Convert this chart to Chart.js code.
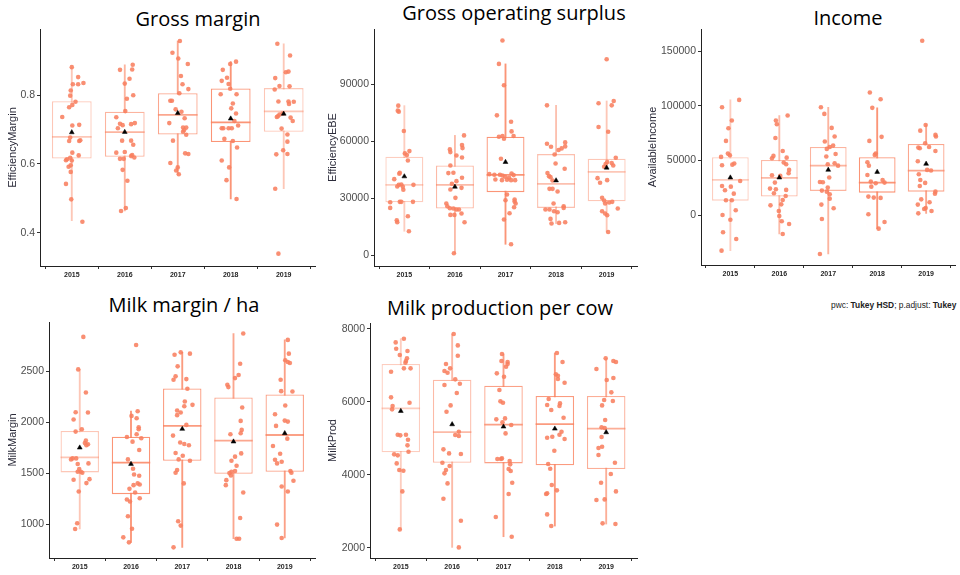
<!DOCTYPE html>
<html>
<head>
<meta charset="utf-8">
<title>Farm efficiency indicators 2015-2019</title>
<script src="https://cdn.jsdelivr.net/npm/chart.js@4/dist/chart.umd.min.js"></script>
<style>
  html, body { margin: 0; padding: 0; background: #fff; }
  #page { position: relative; width: 960px; height: 575px; overflow: hidden; background: #fff; }
  canvas { position: absolute; }
  .ptitle { position: absolute; font-family: "Open Sans", "Noto Sans", sans-serif; font-weight: 400; font-size: 20px; color: #000;
            white-space: nowrap; transform: translateX(-50%); line-height: 20px; }
  #caption { position: absolute; left: 831px; top: 300px; font-family: "Liberation Sans", Arial, sans-serif;
             font-size: 8.4px; color: #222; white-space: nowrap; }
</style>
</head>
<body>
<div id="page">
  <div class="ptitle" style="left:198px; top:9px;">Gross margin</div>
  <div class="ptitle" style="left:514px; top:3px;">Gross operating surplus</div>
  <div class="ptitle" style="left:848px; top:8px;">Income</div>
  <div class="ptitle" style="left:184px; top:295px;">Milk margin / ha</div>
  <div class="ptitle" style="left:500px; top:298px;">Milk production per cow</div>
  <div id="caption">pwc: <b>Tukey HSD</b>; p.adjust: <b>Tukey</b></div>
  <canvas id="cMargin" width="320" height="285" style="left:0px; top:0px;"></canvas>
  <canvas id="cEbe" width="320" height="285" style="left:322px; top:0px;"></canvas>
  <canvas id="cIncome" width="318" height="285" style="left:642px; top:0px;"></canvas>
  <canvas id="cMilkMargin" width="320" height="285" style="left:0px; top:290px;"></canvas>
  <canvas id="cMilkProd" width="320" height="285" style="left:322px; top:290px;"></canvas>
</div>
<script>
// ---- shared categories ----
const years = ['2015', '2016', '2017', '2018', '2019'];

// ---- EfficiencyMargin (gross margin) ----
const marginValues = [
  [0.882,0.853,0.832,0.832,0.836,0.814,0.799,0.772,0.781,0.765,0.737,0.712,0.714,0.677,0.667,0.667,0.669,0.633,0.625,0.618,0.614,0.611,0.610,0.592,0.596,0.577,0.542,0.497,0.432],
  [0.874,0.889,0.875,0.834,0.848,0.790,0.800,0.754,0.736,0.717,0.704,0.713,0.716,0.719,0.668,0.668,0.656,0.635,0.633,0.615,0.615,0.626,0.619,0.623,0.583,0.551,0.472,0.463],
  [0.958,0.924,0.907,0.891,0.856,0.832,0.818,0.806,0.784,0.784,0.759,0.752,0.733,0.719,0.706,0.706,0.699,0.694,0.685,0.668,0.631,0.629,0.603,0.590,0.581,0.570],
  [0.898,0.891,0.874,0.851,0.842,0.833,0.819,0.803,0.803,0.776,0.762,0.747,0.725,0.704,0.704,0.704,0.704,0.712,0.673,0.667,0.648,0.610,0.590,0.553,0.498],
  [0.950,0.916,0.867,0.869,0.850,0.827,0.826,0.817,0.782,0.782,0.775,0.781,0.737,0.739,0.744,0.747,0.735,0.725,0.703,0.686,0.665,0.640,0.629,0.628,0.528,0.339]
];
const marginJitter = [
  [0,0.12,0.02,0.12,0.22,-0.02,-0.03,0.01,0.07,-0.05,-0.18,0.01,0.14,-0.03,-0.05,0.14,0.16,0.01,0.13,-0.03,-0.09,-0.11,0,-0.06,-0.02,-0.02,-0.11,-0.01,0.2],
  [-0.09,0.15,0.14,0,0.09,0.04,0.16,0.01,-0.16,-0.09,-0.13,-0.04,0.12,0.19,-0.05,0.12,0.16,0,-0.16,-0.09,-0.02,0.14,0.18,0.12,-0.04,0.05,0.02,-0.07],
  [0.04,-0.1,0.01,0.19,0.06,0.09,0.2,0.03,-0.14,-0.11,-0.04,0.07,0.13,-0.16,0.1,0.16,0.12,0.1,0.16,-0.09,0.14,0.2,-0.14,0,-0.03,0.02],
  [0.1,-0.01,-0.15,-0.07,-0.17,-0.04,-0.01,-0.19,0.11,0.04,0.01,0.1,0.07,-0.17,-0.14,-0.04,0.02,0.14,-0.12,0.04,0.12,-0.17,-0.03,-0.08,0.11],
  [-0.12,0.12,0.04,0.09,-0.16,-0.08,0.11,-0.17,-0.1,0.09,0.1,0.19,-0.13,-0.11,-0.08,-0.02,0.13,0.17,-0.04,0.07,0.07,-0.01,0.07,-0.14,-0.16,-0.1]
];
// [lower whisker, Q1, median, Q3, upper whisker]
const marginBox = [[0.435,0.616,0.679,0.783,0.882],[0.463,0.621,0.693,0.752,0.889],[0.570,0.686,0.743,0.806,0.958],[0.498,0.664,0.721,0.820,0.898],[0.528,0.694,0.753,0.821,0.950]];
const marginMean = [0.692,0.693,0.748,0.732,0.746];
const marginTicks = [0.4, 0.6, 0.8];

// ---- EfficiencyEBE (gross operating surplus) ----
const ebeValues = [
  [78760,76120,75600,65400,54850,53620,52740,49930,43420,42900,40080,37090,37270,36210,36040,37090,34460,28130,28130,27950,28130,24960,20570,18460,17400,12660],
  [63110,55730,54320,58010,56430,52560,51510,47290,43420,43250,40790,39030,37620,35510,34630,30240,27250,25840,24790,24610,24080,21970,21270,17400,1050,24080,21270],
  [113040,100730,89480,73660,70320,65220,62410,62760,61350,62760,50810,42720,42370,42370,42020,41310,40790,43070,42200,39560,39910,39560,39730,39560,32000,29000,29360,28300,27250,25310,22150,18810,5800],
  [78930,58720,59420,57130,57310,56250,55380,53090,48340,45530,43250,41660,41130,39380,34980,34980,33570,27250,24080,24080,23200,25840,24960,22670,19160,16700,17400,17050],
  [103190,79990,81220,78930,67500,65050,49050,48520,51330,47990,47290,46590,40610,38150,39560,30240,28830,27780,27250,28130,24610,23200,21970,21100,12300]
];
const ebeJitter = [
  [-0.12,-0.13,-0.11,-0.01,0.1,0.01,0.05,0.07,-0.09,-0.1,-0.2,-0.11,-0.06,-0.14,-0.03,0.18,-0.02,-0.09,-0.06,-0.28,0.17,-0.28,0.07,-0.15,-0.14,0.09],
  [0.18,-0.1,-0.09,0.14,0.15,0.03,0.14,-0.09,-0.03,-0.13,0.14,0.03,-0.06,0.13,-0.09,0.01,-0.17,-0.15,-0.1,-0.03,0.03,0.13,-0.01,0.19,-0.02,0.08,-0.09],
  [-0.06,-0.13,-0.03,-0.17,0.11,0.12,-0.13,-0.06,-0.03,0.16,-0.09,-0.32,-0.22,-0.11,-0.06,-0.01,0.07,0.12,0.16,0.19,-0.2,-0.07,0.03,0.11,0.03,0,0.18,0.18,0.2,0.17,0.08,-0.03,0.11],
  [-0.18,-0.18,0.18,-0.1,0.18,0.11,0.05,-0.03,-0.01,0.17,-0.17,-0.14,-0.11,-0.07,-0.13,-0.07,0.03,-0.05,-0.21,-0.13,-0.04,0.15,0.15,0.03,-0.11,-0.09,0.18,0.06],
  [0,-0.16,0.14,0.1,-0.16,0.03,0.01,0.1,0.18,-0.02,0.13,-0.05,-0.18,-0.13,0.01,-0.09,-0.05,0.05,-0.03,0.11,0.22,-0.09,-0.03,0.01,0.03]
];
const ebeBox = [[12660,27950,37090,51860,78760],[1050,24610,37090,47290,63110],[5800,33230,42370,62410,100730],[16700,24960,37620,53270,78930],[12300,28480,43950,50810,81220]];
const ebeMean = [41490,36040,49050,39380,46060];
const ebeTicks = [0, 30000, 60000, 90000];

// ---- AvailableIncome (income) ----
const incomeValues = [
  [105500,98800,86600,79600,68000,54900,53400,47300,46300,45700,31400,26800,22900,19800,13700,13700,4600,300,-4000,-15500,-21600,-32300,56400,26200],
  [91200,86600,83200,70700,54300,52100,52700,58800,48200,46600,41500,38400,36600,36000,29900,24400,23800,20100,23200,17700,14000,10000,9100,4000,-600,-5500,-7900,-17100],
  [98800,92700,79900,72000,67400,62500,63700,60700,56100,53700,46600,47600,45400,34500,30500,30200,25300,22600,21600,19200,15200,9800,6400,-3400,-35400],
  [112200,106100,98200,71700,68000,55200,56400,48500,45400,36900,32300,30800,29900,29300,26200,17100,16200,15900,900,-6100,-12200],
  [159500,77400,82600,73500,72000,65900,62500,61300,61900,58800,49400,40900,41500,37500,32300,26800,29600,19800,21600,14600,11900,9800,6700,5800,4000,1800]
];
const incomeJitter = [
  [0.18,-0.17,0.03,-0.04,-0.09,-0.01,-0.19,0.08,0.04,-0.17,0.2,-0.17,-0.11,0.07,-0.09,0.03,0.11,-0.16,0,-0.15,0.12,-0.18,-0.05,0.01],
  [0.17,-0.07,-0.05,-0.08,-0.12,-0.15,0.15,0.07,0.09,0.14,0.2,0.19,-0.15,0.02,-0.09,-0.19,-0.07,-0.11,0.14,0.13,0.07,0.04,-0.18,-0.01,0,0.05,0.2,0.07],
  [-0.15,-0.08,0.07,0.13,-0.07,0.03,0.1,-0.03,0.15,-0.04,-0.01,0.13,0.2,0.02,-0.17,-0.11,-0.01,-0.13,-0.03,0.03,0.03,-0.14,0.11,-0.13,-0.17],
  [-0.15,0.07,-0.1,0.09,-0.16,-0.05,-0.03,-0.2,-0.17,-0.2,0.11,-0.13,0.15,-0.03,-0.12,-0.18,-0.07,0.07,-0.18,0.15,0.03],
  [-0.08,-0.12,-0.01,0.19,0.2,-0.02,0.06,-0.13,-0.16,0.19,-0.17,0.1,0.02,-0.15,-0.12,-0.13,-0.02,0.18,0.19,-0.1,0.07,-0.17,-0.01,-0.04,0.11,-0.16]
];
const incomeBox = [[-32300,13400,32300,53050,105500],[-17100,17100,34150,50600,91200],[-35400,22300,45400,62500,98800],[-12200,20700,29900,53050,98200],[1800,21600,40900,65200,82600]];
const incomeMean = [34450,34450,41500,39600,47000];
const incomeTicks = [0, 50000, 100000, 150000];

// ---- MilkMargin (milk margin / ha) ----
const milkMarginValues = [
  [2834,2516,2290,2094,2097,2025,1930,1907,1819,1796,1773,1783,1645,1635,1645,1596,1590,1540,1514,1514,1504,1436,1442,1403,1321,1010,954],
  [2755,2107,2061,2038,1950,1930,1881,1855,1842,1809,1727,1635,1544,1488,1475,1400,1383,1390,1347,1311,1255,1242,1223,1079,957,872,823],
  [2670,2683,2660,2546,2421,2415,2448,2326,2202,2156,2169,2114,2094,2068,1973,1868,1800,1786,1773,1698,1671,1635,1622,1531,1504,1400,1030,987,774],
  [2867,2572,2461,2431,2366,2343,2143,2012,1924,1891,1881,1694,1662,1622,1573,1521,1514,1501,1478,1432,1383,1311,1062,859,859],
  [2805,2670,2605,2589,2579,2415,2300,2303,2077,2163,2015,1963,2005,1838,1766,1691,1632,1612,1596,1521,1504,1426,1370,1321,997,866]
];
const milkMarginJitter = [
  [0.07,-0.03,0.12,0.16,-0.08,-0.12,0.04,-0.08,0.12,0.1,0.13,0.16,-0.14,-0.17,-0.07,0.17,-0.04,-0.01,0.02,-0.04,0.05,-0.12,0.19,0.13,-0.02,-0.05,-0.09],
  [0.1,0.13,0.01,0.11,0.15,0.15,0.11,-0.08,0.2,0.03,0.16,-0.06,0.04,0.06,0.16,0.13,0.05,0.17,-0.03,0.08,0.17,-0.08,-0.02,-0.06,0.02,-0.15,-0.04],
  [0.15,-0.03,-0.15,-0.09,0.08,-0.17,-0.13,0.1,0.05,0.04,0.2,-0.1,-0.03,-0.1,0.08,-0.18,-0.04,0.04,0.13,-0.13,0.01,-0.07,0.15,-0.1,-0.13,0.03,-0.08,-0.03,-0.17],
  [0.19,0.13,0.1,0.03,-0.12,-0.1,0.17,0.14,0.16,0.14,-0.06,0.15,0.03,-0.04,0.06,0.03,-0.04,-0.08,-0.05,-0.14,-0.15,0.19,0.13,0.11,0.06],
  [0.06,0.08,0.01,0.06,0.1,-0.08,0.15,-0.07,-0.19,0.01,0,-0.17,0.06,0.05,-0.23,-0.09,-0.19,-0.06,-0.15,0.11,0.13,0.17,-0.06,0.06,-0.15,-0.06]
];
const milkMarginBox = [[954,1508,1655,1914,2516],[823,1295,1603,1858,2107],[774,1622,1963,2330,2683],[859,1495,1819,2241,2867],[866,1514,1874,2271,2805]];
const milkMarginMean = [1750,1590,1933,1809,1891];
const milkMarginTicks = [1000, 1500, 2000, 2500];

// ---- MilkProd (milk production per cow) ----
const milkProdValues = [
  [7726,7625,7452,7388,7278,7187,7114,7068,6913,6913,6822,6119,5972,5881,5790,5096,5078,5096,4959,4804,4630,4557,4530,4310,4128,4110,3543,2502],
  [7854,7543,7260,7032,6913,6840,6794,6612,6456,6493,6237,5899,5726,5178,5059,5087,4694,4584,4566,4329,4237,4128,4037,3762,3342,2740,2009],
  [7306,7114,7087,7032,6959,6776,6685,6320,6009,5972,5516,5361,5543,5434,5132,4447,4429,4429,4374,4283,4155,4100,3781,3470,2840,2301],
  [7333,7087,6749,6712,6621,6520,6073,5908,5954,5881,5771,5561,5178,5096,5041,5014,4977,4657,4292,4164,3717,3571,3489,3470,2913,2593],
  [7187,7114,7087,6895,6648,6594,6256,5899,6018,6046,5498,5297,5279,5032,4767,4730,4539,4329,4018,3781,3543,3324,3306,2667,2648]
];
const milkProdJitter = [
  [0.06,-0.1,-0.09,0.13,-0.02,0.12,0.1,0.09,0.19,0.06,-0.19,-0.19,0.17,-0.16,-0.17,-0.06,-0.01,0.1,0.14,0.13,0.15,-0.13,-0.06,-0.08,-0.03,0.05,0.03,-0.02],
  [0.03,0.11,0.11,-0.12,-0.04,-0.15,-0.09,0.06,-0.15,0.15,0.09,-0.03,-0.11,0.13,0.13,0.06,-0.17,-0.06,0.17,-0.19,-0.05,-0.12,-0.15,-0.09,-0.17,0.17,0.13],
  [-0.03,-0.04,0.08,0.08,0.05,-0.13,0.01,-0.08,-0.06,-0.01,-0.14,0.15,0.03,-0.02,0.04,-0.03,-0.12,-0.05,0.12,0.13,0.1,0.14,0.17,0.1,-0.15,0.16],
  [0.04,0.15,0.02,0.06,0.06,0.19,-0.12,-0.15,0.1,0.09,-0.07,0.17,0.13,0.09,-0.05,-0.15,0.19,-0.01,-0.13,-0.09,-0.06,0.04,-0.15,-0.17,-0.15,-0.07],
  [-0.01,0.14,0.19,-0.19,0.14,0.01,0.1,-0.08,0.13,-0.04,-0.02,-0.09,-0.03,-0.09,-0.08,-0.15,-0.15,0.17,0.09,-0.1,0.19,-0.03,-0.19,-0.07,0.18]
];
const milkProdBox = [[2502,4612,5817,7032,7726],[2009,4329,5169,6602,7854],[2301,4310,5370,6438,7306],[2593,4256,5388,6155,7333],[2648,4155,5261,6155,7187]];
const milkProdMean = [5744,5379,5315,5260,5160];
const milkProdTicks = [2000, 4000, 6000, 8000];

// ---- drawing ----
const BOX_WIDTH = 0.75;            // box width as a fraction of one category step
const POINT_COLOR = 'rgba(248,128,96,0.88)';
const stroke = a => `rgba(250,130,95,${a})`;

Chart.defaults.font.family = "'Liberation Sans', Arial, sans-serif";

function boxplotPanel(canvasId, p) {
  const points = [];
  p.values.forEach((arr, i) => arr.forEach((v, k) => points.push({ x: i + 1 + p.jitter[i][k], y: v })));
  const whiskers = p.box.map((b, i) => ({ x: i + 1, y: [b[0], b[4]] }));
  const boxes = p.box.map((b, i) => ({ x: i + 1, y: [b[1], b[3]] }));
  const medians = p.box.map((b, i) => ({ x: i + 1, y: b[2] }));
  const means = p.mean.map((m, i) => ({ x: i + 1, y: m }));
  const strokes = p.alpha.map(stroke);
  const halfBox = chart => {
    const s = chart.scales.x;
    if (!s) return 18;
    return Math.abs(s.getPixelForValue(1 + BOX_WIDTH / 2) - s.getPixelForValue(1));
  };
  const axisGrid = { display: true, drawOnChartArea: false, drawTicks: true, tickLength: 3, color: '#333', lineWidth: 1 };
  const axisBorder = { display: true, color: '#222', width: 1 };

  new Chart(document.getElementById(canvasId), {
    type: 'bar',
    data: {
      datasets: [
        { type: 'bar', data: whiskers, backgroundColor: strokes, borderWidth: 0, barThickness: 1.2, grouped: false, order: 5 },
        { type: 'bar', data: boxes, backgroundColor: '#ffffff', borderColor: strokes, borderWidth: 1.3,
          borderSkipped: false, grouped: false, categoryPercentage: 1, barPercentage: BOX_WIDTH, order: 4 },
        { type: 'scatter', data: medians, pointStyle: 'line', pointRadius: ctx => halfBox(ctx.chart),
          borderColor: strokes, borderWidth: 1.8, order: 3 },
        { type: 'scatter', data: points, pointRadius: 2.3, backgroundColor: POINT_COLOR, borderWidth: 0, order: 2 },
        { type: 'scatter', data: means, pointStyle: 'triangle', pointRadius: 2.8,
          backgroundColor: '#000', borderColor: '#000', borderWidth: 0.5, order: 1 }
      ]
    },
    options: {
      responsive: false,
      animation: false,
      devicePixelRatio: 1,
      layout: { padding: { top: p.padTop, right: p.padRight, left: 0, bottom: 0 } },
      plugins: { legend: { display: false }, tooltip: { enabled: false }, title: { display: false } },
      scales: {
        x: {
          type: 'linear', min: 0.4, max: 5.6, offset: false,
          afterBuildTicks: s => { s.ticks = years.map((y, i) => ({ value: i + 1 })); },
          afterFit: s => { s.height = p.xAxisHeight; },
          ticks: { callback: v => years[Math.round(v) - 1], font: { size: 7, weight: 'bold' }, color: '#262626',
                   padding: 2, maxRotation: 0, autoSkip: false },
          grid: axisGrid, border: axisBorder
        },
        y: {
          type: 'linear', min: p.min, max: p.max,
          afterBuildTicks: s => { s.ticks = p.ticks.map(v => ({ value: v })); },
          afterFit: s => { s.width = p.yAxisWidth; },
          ticks: { callback: v => String(v), font: { size: 10.5 }, color: '#4d4d4d', padding: 2, autoSkip: false },
          title: { display: true, text: p.label, font: { size: 11 }, color: '#2b2b3a',
                   padding: { top: p.titlePad, bottom: 0 } },
          grid: axisGrid, border: axisBorder
        }
      }
    }
  });
}

boxplotPanel('cMargin', {
  values: marginValues, jitter: marginJitter, box: marginBox, mean: marginMean, ticks: marginTicks,
  label: 'EfficiencyMargin', min: 0.303, max: 0.993, alpha: [0.45, 0.6, 0.7, 0.85, 0.45],
  padTop: 29, padRight: 3, yAxisWidth: 40, xAxisHeight: 19, titlePad: 6.5
});
boxplotPanel('cEbe', {
  values: ebeValues, jitter: ebeJitter, box: ebeBox, mean: ebeMean, ticks: ebeTicks,
  label: 'EfficiencyEBE', min: -5630, max: 119100, alpha: [0.4, 0.55, 0.85, 0.5, 0.45],
  padTop: 29, padRight: 5, yAxisWidth: 52, xAxisHeight: 19, titlePad: 4.5
});
boxplotPanel('cIncome', {
  values: incomeValues, jitter: incomeJitter, box: incomeBox, mean: incomeMean, ticks: incomeTicks,
  label: 'AvailableIncome', min: -45430, max: 170300, alpha: [0.4, 0.55, 0.6, 0.85, 0.7],
  padTop: 29, padRight: 1, yAxisWidth: 59, xAxisHeight: 20, titlePad: 4.5
});
boxplotPanel('cMilkMargin', {
  values: milkMarginValues, jitter: milkMarginJitter, box: milkMarginBox, mean: milkMarginMean, ticks: milkMarginTicks,
  label: 'MilkMargin', min: 670, max: 2980, alpha: [0.45, 0.85, 0.8, 0.7, 0.75],
  padTop: 32, padRight: 2, yAxisWidth: 49, xAxisHeight: 17, titlePad: 6.5
});
boxplotPanel('cMilkProd', {
  values: milkProdValues, jitter: milkProdJitter, box: milkProdBox, mean: milkProdMean, ticks: milkProdTicks,
  label: 'MilkProd', min: 1718, max: 8156, alpha: [0.4, 0.55, 0.75, 0.8, 0.65],
  padTop: 33, padRight: 5, yAxisWidth: 48, xAxisHeight: 17, titlePad: 4.5
});
</script>
</body>
</html>
